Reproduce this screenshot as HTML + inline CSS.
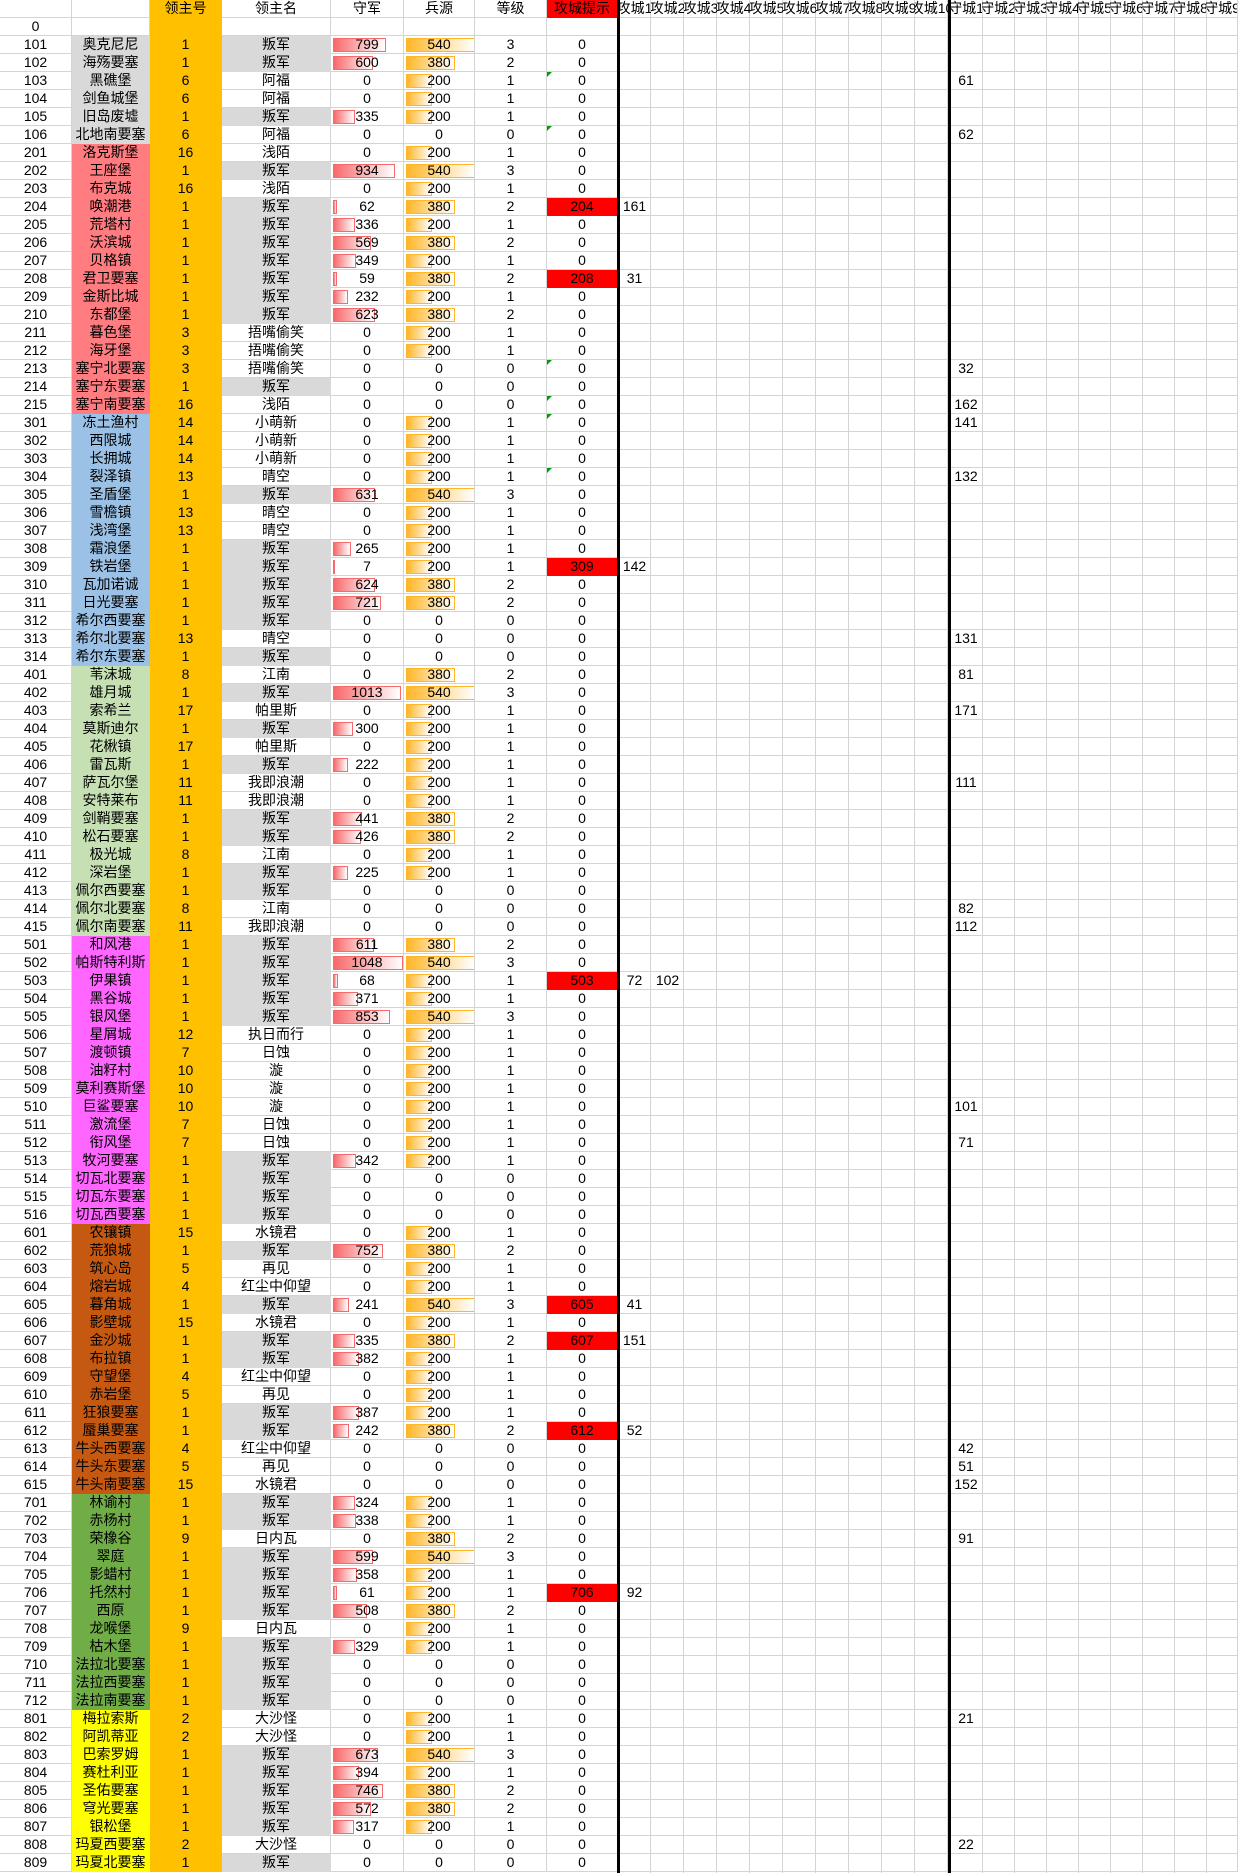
<!DOCTYPE html>
<html><head><meta charset="utf-8"><style>
body{margin:0;width:1238px;height:1873px;overflow:hidden;background:#fff;font:14px "Liberation Sans","Noto Sans CJK SC",sans-serif;position:relative;color:#000}
table{border-collapse:separate;border-spacing:0;table-layout:fixed;width:1238px;position:absolute;left:0;top:0}
td{height:17px;padding:0;border-right:1px solid #d4d4d4;border-bottom:1px solid #d4d4d4;text-align:center;line-height:17px;white-space:nowrap;overflow:hidden;position:relative}
td:nth-child(3){background:#ffc000;border-color:#ffc000}
tr.g1 td:nth-child(2){background:#d9d9d9;border-color:#d9d9d9}
tr.g2 td:nth-child(2){background:#ff7c80;border-color:#ff7c80}
tr.g3 td:nth-child(2){background:#9bc2e6;border-color:#9bc2e6}
tr.g4 td:nth-child(2){background:#c6e0b4;border-color:#c6e0b4}
tr.g5 td:nth-child(2){background:#ff66ff;border-color:#ff66ff}
tr.g6 td:nth-child(2){background:#c65911;border-color:#c65911}
tr.g7 td:nth-child(2){background:#70ad47;border-color:#70ad47}
tr.g8 td:nth-child(2){background:#ffff00;border-color:#ffff00}
td.r{background:#d9d9d9;border-color:#d9d9d9}
td.k{background:#ff0000;border-color:#ff0000}
td.t::before{content:"";position:absolute;left:0;top:0;border-top:5px solid #00a000;border-right:5px solid transparent}
td i{position:absolute;left:2px;top:2px;height:14px;box-sizing:border-box;border:1px solid #f8696b;background:linear-gradient(to right,#f8696b,#fff);z-index:-1}
td b{position:absolute;left:2px;top:2px;height:14px;box-sizing:border-box;border:1px solid #ffb628;background:linear-gradient(to right,#ffb628,#fff);z-index:-1}
b.x{width:69px}b.y{width:49px}b.z{width:26px}
s{position:absolute;top:0;text-decoration:none;width:33px;height:17px;display:flex;justify-content:center;overflow:hidden}
s.a{left:0}s.b{left:33px}s.d{left:332px;width:32px}
.v1{position:absolute;left:618px;top:0;width:330px;height:1873px;background:repeating-linear-gradient(to right,transparent 0 32px,#d4d4d4 32px 33px)}
.v2{position:absolute;left:951px;top:0;width:287px;height:1873px;background:repeating-linear-gradient(to right,transparent 0 31px,#d4d4d4 31px 32px)}
.tk{position:absolute;top:0;width:3px;height:1873px;background:#000}
</style></head><body>
<div class="v1"></div><div class="v2"></div>
<table>
<colgroup><col style="width:72px"><col style="width:78px"><col style="width:72px"><col style="width:109px"><col style="width:73px"><col style="width:71px"><col style="width:72px"><col style="width:71px"><col style="width:620px"></colgroup>
<tr><td><td><td>领主号<td>领主名<td>守军<td>兵源<td>等级<td class=k>攻城提示<td><s style="left:0">攻城1</s><s style="left:33px">攻城2</s><s style="left:66px">攻城3</s><s style="left:99px">攻城4</s><s style="left:132px">攻城5</s><s style="left:165px">攻城6</s><s style="left:198px">攻城7</s><s style="left:231px">攻城8</s><s style="left:264px">攻城9</s><s style="left:297px">攻城10</s><s style="left:332px;width:32px">守城1</s><s style="left:364px;width:32px">守城2</s><s style="left:396px;width:32px">守城3</s><s style="left:428px;width:32px">守城4</s><s style="left:460px;width:32px">守城5</s><s style="left:492px;width:32px">守城6</s><s style="left:524px;width:32px">守城7</s><s style="left:556px;width:32px">守城8</s><s style="left:588px;width:32px">守城9</s></td></tr>
<tr><td>0<td><td><td><td><td><td><td><td></td></tr>
<tr class=g1><td>101<td>奥克尼尼<td>1<td class=r>叛军<td><i style="width:53px"></i>799<td><b class=x></b>540<td>3<td>0<td></td></tr>
<tr class=g1><td>102<td>海殇要塞<td>1<td class=r>叛军<td><i style="width:40px"></i>600<td><b class=y></b>380<td>2<td>0<td></td></tr>
<tr class=g1><td>103<td>黑礁堡<td>6<td>阿福<td>0<td><b class=z></b>200<td>1<td class=t>0<td><s class=d>61</s></td></tr>
<tr class=g1><td>104<td>剑鱼城堡<td>6<td>阿福<td>0<td><b class=z></b>200<td>1<td>0<td></td></tr>
<tr class=g1><td>105<td>旧岛废墟<td>1<td class=r>叛军<td><i style="width:22px"></i>335<td><b class=z></b>200<td>1<td>0<td></td></tr>
<tr class=g1><td>106<td>北地南要塞<td>6<td>阿福<td>0<td>0<td>0<td class=t>0<td><s class=d>62</s></td></tr>
<tr class=g2><td>201<td>洛克斯堡<td>16<td>浅陌<td>0<td><b class=z></b>200<td>1<td>0<td></td></tr>
<tr class=g2><td>202<td>王座堡<td>1<td class=r>叛军<td><i style="width:62px"></i>934<td><b class=x></b>540<td>3<td>0<td></td></tr>
<tr class=g2><td>203<td>布克城<td>16<td>浅陌<td>0<td><b class=z></b>200<td>1<td>0<td></td></tr>
<tr class=g2><td>204<td>唤潮港<td>1<td class=r>叛军<td><i style="width:4px"></i>62<td><b class=y></b>380<td>2<td class=k>204<td><s class=a>161</s></td></tr>
<tr class=g2><td>205<td>荒塔村<td>1<td class=r>叛军<td><i style="width:22px"></i>336<td><b class=z></b>200<td>1<td>0<td></td></tr>
<tr class=g2><td>206<td>沃滨城<td>1<td class=r>叛军<td><i style="width:38px"></i>569<td><b class=y></b>380<td>2<td>0<td></td></tr>
<tr class=g2><td>207<td>贝格镇<td>1<td class=r>叛军<td><i style="width:23px"></i>349<td><b class=z></b>200<td>1<td>0<td></td></tr>
<tr class=g2><td>208<td>君卫要塞<td>1<td class=r>叛军<td><i style="width:4px"></i>59<td><b class=y></b>380<td>2<td class=k>208<td><s class=a>31</s></td></tr>
<tr class=g2><td>209<td>金斯比城<td>1<td class=r>叛军<td><i style="width:15px"></i>232<td><b class=z></b>200<td>1<td>0<td></td></tr>
<tr class=g2><td>210<td>东都堡<td>1<td class=r>叛军<td><i style="width:42px"></i>623<td><b class=y></b>380<td>2<td>0<td></td></tr>
<tr class=g2><td>211<td>暮色堡<td>3<td>捂嘴偷笑<td>0<td><b class=z></b>200<td>1<td>0<td></td></tr>
<tr class=g2><td>212<td>海牙堡<td>3<td>捂嘴偷笑<td>0<td><b class=z></b>200<td>1<td>0<td></td></tr>
<tr class=g2><td>213<td>塞宁北要塞<td>3<td>捂嘴偷笑<td>0<td>0<td>0<td class=t>0<td><s class=d>32</s></td></tr>
<tr class=g2><td>214<td>塞宁东要塞<td>1<td class=r>叛军<td>0<td>0<td>0<td>0<td></td></tr>
<tr class=g2><td>215<td>塞宁南要塞<td>16<td>浅陌<td>0<td>0<td>0<td class=t>0<td><s class=d>162</s></td></tr>
<tr class=g3><td>301<td>冻土渔村<td>14<td>小萌新<td>0<td><b class=z></b>200<td>1<td class=t>0<td><s class=d>141</s></td></tr>
<tr class=g3><td>302<td>西限城<td>14<td>小萌新<td>0<td><b class=z></b>200<td>1<td>0<td></td></tr>
<tr class=g3><td>303<td>长拥城<td>14<td>小萌新<td>0<td><b class=z></b>200<td>1<td>0<td></td></tr>
<tr class=g3><td>304<td>裂泽镇<td>13<td>晴空<td>0<td><b class=z></b>200<td>1<td class=t>0<td><s class=d>132</s></td></tr>
<tr class=g3><td>305<td>圣盾堡<td>1<td class=r>叛军<td><i style="width:42px"></i>631<td><b class=x></b>540<td>3<td>0<td></td></tr>
<tr class=g3><td>306<td>雪檐镇<td>13<td>晴空<td>0<td><b class=z></b>200<td>1<td>0<td></td></tr>
<tr class=g3><td>307<td>浅湾堡<td>13<td>晴空<td>0<td><b class=z></b>200<td>1<td>0<td></td></tr>
<tr class=g3><td>308<td>霜浪堡<td>1<td class=r>叛军<td><i style="width:18px"></i>265<td><b class=z></b>200<td>1<td>0<td></td></tr>
<tr class=g3><td>309<td>铁岩堡<td>1<td class=r>叛军<td><i style="width:2px"></i>7<td><b class=z></b>200<td>1<td class=k>309<td><s class=a>142</s></td></tr>
<tr class=g3><td>310<td>瓦加诺诚<td>1<td class=r>叛军<td><i style="width:42px"></i>624<td><b class=y></b>380<td>2<td>0<td></td></tr>
<tr class=g3><td>311<td>日光要塞<td>1<td class=r>叛军<td><i style="width:48px"></i>721<td><b class=y></b>380<td>2<td>0<td></td></tr>
<tr class=g3><td>312<td>希尔西要塞<td>1<td class=r>叛军<td>0<td>0<td>0<td>0<td></td></tr>
<tr class=g3><td>313<td>希尔北要塞<td>13<td>晴空<td>0<td>0<td>0<td>0<td><s class=d>131</s></td></tr>
<tr class=g3><td>314<td>希尔东要塞<td>1<td class=r>叛军<td>0<td>0<td>0<td>0<td></td></tr>
<tr class=g4><td>401<td>苇沫城<td>8<td>江南<td>0<td><b class=y></b>380<td>2<td>0<td><s class=d>81</s></td></tr>
<tr class=g4><td>402<td>雄月城<td>1<td class=r>叛军<td><i style="width:68px"></i>1013<td><b class=x></b>540<td>3<td>0<td></td></tr>
<tr class=g4><td>403<td>索希兰<td>17<td>帕里斯<td>0<td><b class=z></b>200<td>1<td>0<td><s class=d>171</s></td></tr>
<tr class=g4><td>404<td>莫斯迪尔<td>1<td class=r>叛军<td><i style="width:20px"></i>300<td><b class=z></b>200<td>1<td>0<td></td></tr>
<tr class=g4><td>405<td>花楸镇<td>17<td>帕里斯<td>0<td><b class=z></b>200<td>1<td>0<td></td></tr>
<tr class=g4><td>406<td>雷瓦斯<td>1<td class=r>叛军<td><i style="width:15px"></i>222<td><b class=z></b>200<td>1<td>0<td></td></tr>
<tr class=g4><td>407<td>萨瓦尔堡<td>11<td>我即浪潮<td>0<td><b class=z></b>200<td>1<td>0<td><s class=d>111</s></td></tr>
<tr class=g4><td>408<td>安特莱布<td>11<td>我即浪潮<td>0<td><b class=z></b>200<td>1<td>0<td></td></tr>
<tr class=g4><td>409<td>剑鞘要塞<td>1<td class=r>叛军<td><i style="width:29px"></i>441<td><b class=y></b>380<td>2<td>0<td></td></tr>
<tr class=g4><td>410<td>松石要塞<td>1<td class=r>叛军<td><i style="width:28px"></i>426<td><b class=y></b>380<td>2<td>0<td></td></tr>
<tr class=g4><td>411<td>极光城<td>8<td>江南<td>0<td><b class=z></b>200<td>1<td>0<td></td></tr>
<tr class=g4><td>412<td>深岩堡<td>1<td class=r>叛军<td><i style="width:15px"></i>225<td><b class=z></b>200<td>1<td>0<td></td></tr>
<tr class=g4><td>413<td>佩尔西要塞<td>1<td class=r>叛军<td>0<td>0<td>0<td>0<td></td></tr>
<tr class=g4><td>414<td>佩尔北要塞<td>8<td>江南<td>0<td>0<td>0<td>0<td><s class=d>82</s></td></tr>
<tr class=g4><td>415<td>佩尔南要塞<td>11<td>我即浪潮<td>0<td>0<td>0<td>0<td><s class=d>112</s></td></tr>
<tr class=g5><td>501<td>和风港<td>1<td class=r>叛军<td><i style="width:41px"></i>611<td><b class=y></b>380<td>2<td>0<td></td></tr>
<tr class=g5><td>502<td>帕斯特利斯<td>1<td class=r>叛军<td><i style="width:70px"></i>1048<td><b class=x></b>540<td>3<td>0<td></td></tr>
<tr class=g5><td>503<td>伊果镇<td>1<td class=r>叛军<td><i style="width:5px"></i>68<td><b class=z></b>200<td>1<td class=k>503<td><s class=a>72</s><s class=b>102</s></td></tr>
<tr class=g5><td>504<td>黑谷城<td>1<td class=r>叛军<td><i style="width:25px"></i>371<td><b class=z></b>200<td>1<td>0<td></td></tr>
<tr class=g5><td>505<td>银风堡<td>1<td class=r>叛军<td><i style="width:57px"></i>853<td><b class=x></b>540<td>3<td>0<td></td></tr>
<tr class=g5><td>506<td>星屑城<td>12<td>执日而行<td>0<td><b class=z></b>200<td>1<td>0<td></td></tr>
<tr class=g5><td>507<td>渡顿镇<td>7<td>日蚀<td>0<td><b class=z></b>200<td>1<td>0<td></td></tr>
<tr class=g5><td>508<td>油籽村<td>10<td>漩<td>0<td><b class=z></b>200<td>1<td>0<td></td></tr>
<tr class=g5><td>509<td>莫利赛斯堡<td>10<td>漩<td>0<td><b class=z></b>200<td>1<td>0<td></td></tr>
<tr class=g5><td>510<td>巨鲨要塞<td>10<td>漩<td>0<td><b class=z></b>200<td>1<td>0<td><s class=d>101</s></td></tr>
<tr class=g5><td>511<td>激流堡<td>7<td>日蚀<td>0<td><b class=z></b>200<td>1<td>0<td></td></tr>
<tr class=g5><td>512<td>衔风堡<td>7<td>日蚀<td>0<td><b class=z></b>200<td>1<td>0<td><s class=d>71</s></td></tr>
<tr class=g5><td>513<td>牧河要塞<td>1<td class=r>叛军<td><i style="width:23px"></i>342<td><b class=z></b>200<td>1<td>0<td></td></tr>
<tr class=g5><td>514<td>切瓦北要塞<td>1<td class=r>叛军<td>0<td>0<td>0<td>0<td></td></tr>
<tr class=g5><td>515<td>切瓦东要塞<td>1<td class=r>叛军<td>0<td>0<td>0<td>0<td></td></tr>
<tr class=g5><td>516<td>切瓦西要塞<td>1<td class=r>叛军<td>0<td>0<td>0<td>0<td></td></tr>
<tr class=g6><td>601<td>农镶镇<td>15<td>水镜君<td>0<td><b class=z></b>200<td>1<td>0<td></td></tr>
<tr class=g6><td>602<td>荒狼城<td>1<td class=r>叛军<td><i style="width:50px"></i>752<td><b class=y></b>380<td>2<td>0<td></td></tr>
<tr class=g6><td>603<td>筑心岛<td>5<td>再见<td>0<td><b class=z></b>200<td>1<td>0<td></td></tr>
<tr class=g6><td>604<td>熔岩城<td>4<td>红尘中仰望<td>0<td><b class=z></b>200<td>1<td>0<td></td></tr>
<tr class=g6><td>605<td>暮角城<td>1<td class=r>叛军<td><i style="width:16px"></i>241<td><b class=x></b>540<td>3<td class=k>605<td><s class=a>41</s></td></tr>
<tr class=g6><td>606<td>影壁城<td>15<td>水镜君<td>0<td><b class=z></b>200<td>1<td>0<td></td></tr>
<tr class=g6><td>607<td>金沙城<td>1<td class=r>叛军<td><i style="width:22px"></i>335<td><b class=y></b>380<td>2<td class=k>607<td><s class=a>151</s></td></tr>
<tr class=g6><td>608<td>布拉镇<td>1<td class=r>叛军<td><i style="width:26px"></i>382<td><b class=z></b>200<td>1<td>0<td></td></tr>
<tr class=g6><td>609<td>守望堡<td>4<td>红尘中仰望<td>0<td><b class=z></b>200<td>1<td>0<td></td></tr>
<tr class=g6><td>610<td>赤岩堡<td>5<td>再见<td>0<td><b class=z></b>200<td>1<td>0<td></td></tr>
<tr class=g6><td>611<td>狂狼要塞<td>1<td class=r>叛军<td><i style="width:26px"></i>387<td><b class=z></b>200<td>1<td>0<td></td></tr>
<tr class=g6><td>612<td>蜃巢要塞<td>1<td class=r>叛军<td><i style="width:16px"></i>242<td><b class=y></b>380<td>2<td class=k>612<td><s class=a>52</s></td></tr>
<tr class=g6><td>613<td>牛头西要塞<td>4<td>红尘中仰望<td>0<td>0<td>0<td>0<td><s class=d>42</s></td></tr>
<tr class=g6><td>614<td>牛头东要塞<td>5<td>再见<td>0<td>0<td>0<td>0<td><s class=d>51</s></td></tr>
<tr class=g6><td>615<td>牛头南要塞<td>15<td>水镜君<td>0<td>0<td>0<td>0<td><s class=d>152</s></td></tr>
<tr class=g7><td>701<td>林谕村<td>1<td class=r>叛军<td><i style="width:22px"></i>324<td><b class=z></b>200<td>1<td>0<td></td></tr>
<tr class=g7><td>702<td>赤杨村<td>1<td class=r>叛军<td><i style="width:23px"></i>338<td><b class=z></b>200<td>1<td>0<td></td></tr>
<tr class=g7><td>703<td>荣橡谷<td>9<td>日内瓦<td>0<td><b class=y></b>380<td>2<td>0<td><s class=d>91</s></td></tr>
<tr class=g7><td>704<td>翠庭<td>1<td class=r>叛军<td><i style="width:40px"></i>599<td><b class=x></b>540<td>3<td>0<td></td></tr>
<tr class=g7><td>705<td>影蜡村<td>1<td class=r>叛军<td><i style="width:24px"></i>358<td><b class=z></b>200<td>1<td>0<td></td></tr>
<tr class=g7><td>706<td>托然村<td>1<td class=r>叛军<td><i style="width:4px"></i>61<td><b class=z></b>200<td>1<td class=k>706<td><s class=a>92</s></td></tr>
<tr class=g7><td>707<td>西原<td>1<td class=r>叛军<td><i style="width:34px"></i>508<td><b class=y></b>380<td>2<td>0<td></td></tr>
<tr class=g7><td>708<td>龙喉堡<td>9<td>日内瓦<td>0<td><b class=z></b>200<td>1<td>0<td></td></tr>
<tr class=g7><td>709<td>枯木堡<td>1<td class=r>叛军<td><i style="width:22px"></i>329<td><b class=z></b>200<td>1<td>0<td></td></tr>
<tr class=g7><td>710<td>法拉北要塞<td>1<td class=r>叛军<td>0<td>0<td>0<td>0<td></td></tr>
<tr class=g7><td>711<td>法拉西要塞<td>1<td class=r>叛军<td>0<td>0<td>0<td>0<td></td></tr>
<tr class=g7><td>712<td>法拉南要塞<td>1<td class=r>叛军<td>0<td>0<td>0<td>0<td></td></tr>
<tr class=g8><td>801<td>梅拉索斯<td>2<td>大沙怪<td>0<td><b class=z></b>200<td>1<td>0<td><s class=d>21</s></td></tr>
<tr class=g8><td>802<td>阿凯蒂亚<td>2<td>大沙怪<td>0<td><b class=z></b>200<td>1<td>0<td></td></tr>
<tr class=g8><td>803<td>巴索罗姆<td>1<td class=r>叛军<td><i style="width:45px"></i>673<td><b class=x></b>540<td>3<td>0<td></td></tr>
<tr class=g8><td>804<td>赛杜利亚<td>1<td class=r>叛军<td><i style="width:26px"></i>394<td><b class=z></b>200<td>1<td>0<td></td></tr>
<tr class=g8><td>805<td>圣佑要塞<td>1<td class=r>叛军<td><i style="width:50px"></i>746<td><b class=y></b>380<td>2<td>0<td></td></tr>
<tr class=g8><td>806<td>穹光要塞<td>1<td class=r>叛军<td><i style="width:38px"></i>572<td><b class=y></b>380<td>2<td>0<td></td></tr>
<tr class=g8><td>807<td>银松堡<td>1<td class=r>叛军<td><i style="width:21px"></i>317<td><b class=z></b>200<td>1<td>0<td></td></tr>
<tr class=g8><td>808<td>玛夏西要塞<td>2<td>大沙怪<td>0<td>0<td>0<td>0<td><s class=d>22</s></td></tr>
<tr class=g8><td>809<td>玛夏北要塞<td>1<td class=r>叛军<td>0<td>0<td>0<td>0<td></td></tr>
</table>
<div class="tk" style="left:617px"></div>
<div class="tk" style="left:948px"></div>
</body></html>
